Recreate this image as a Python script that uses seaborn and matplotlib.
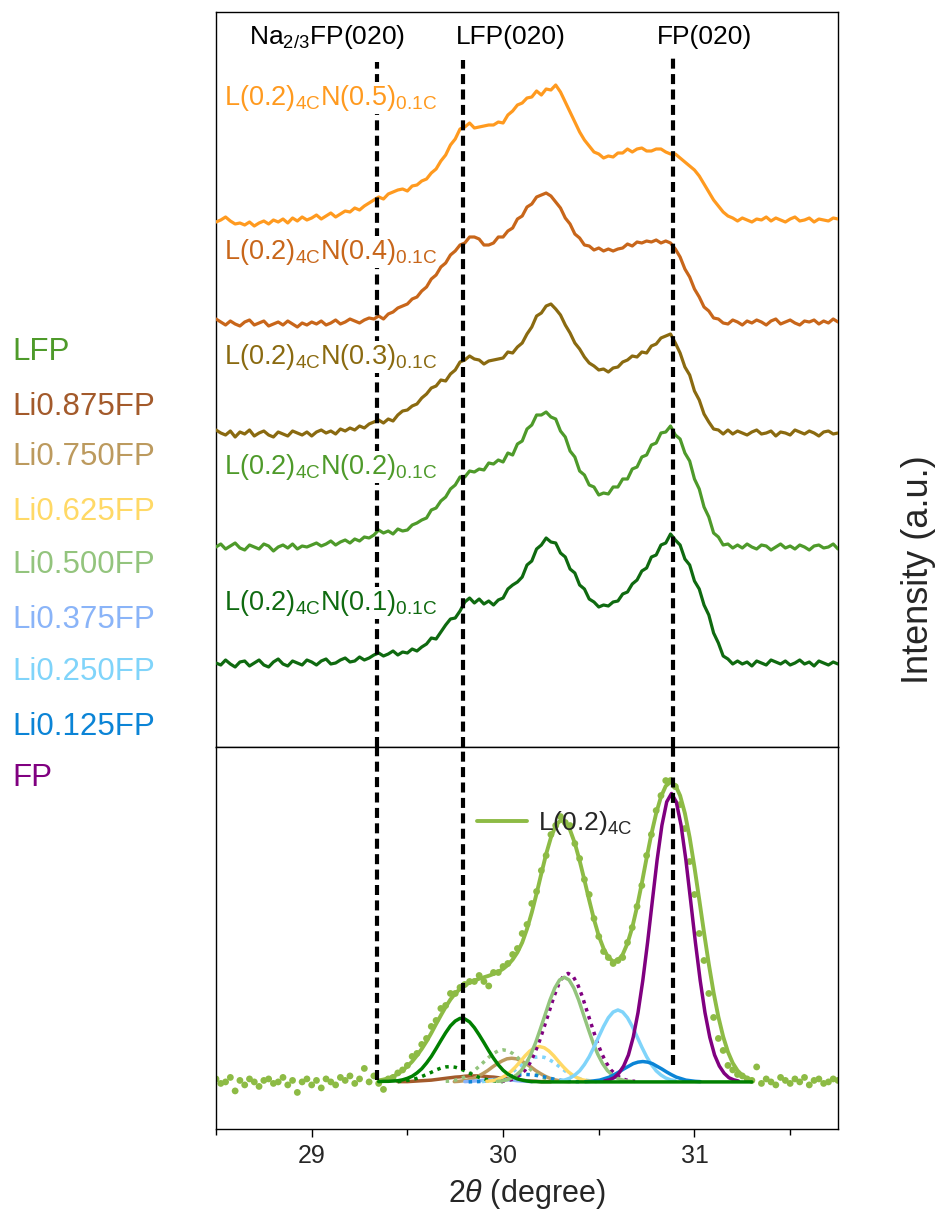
import numpy as np
import matplotlib
matplotlib.use("Agg")
import matplotlib.pyplot as plt
from matplotlib.ticker import MultipleLocator
import seaborn as sns

# ------------------------------------------------------------------
# Upper panel: XRD patterns of the L(0.2)4C N(x)0.1C electrodes
# (2-theta grid from 28.5 deg in 0.025 deg steps, intensity in a.u.)
# ------------------------------------------------------------------
theta_start = 28.5
theta_step = 0.025

pattern_labels = [
    r"L(0.2)$_{\mathrm{4C}}$N(0.1)$_{\mathrm{0.1C}}$",
    r"L(0.2)$_{\mathrm{4C}}$N(0.2)$_{\mathrm{0.1C}}$",
    r"L(0.2)$_{\mathrm{4C}}$N(0.3)$_{\mathrm{0.1C}}$",
    r"L(0.2)$_{\mathrm{4C}}$N(0.4)$_{\mathrm{0.1C}}$",
    r"L(0.2)$_{\mathrm{4C}}$N(0.5)$_{\mathrm{0.1C}}$",
]
pattern_colors = ["#0F6A10", "#4E9A2A", "#8A6A10", "#C8661A", "#FF9A1F"]
pattern_offsets = [84, 200, 314, 425, 527]
pattern_label_levels = [144, 280, 390, 495, 649]

xrd_n01 = [
    0, -2, 3, -1, -4, 1, 2, -3, 0, 3,
    -2, -4, 1, 4, -1, -3, 2, 0, -2, 3,
    1, -2, 2, 4, -1, 0, 3, 5, 1, 2,
    6, 3, 5, 8, 10, 7, 9, 12, 8, 11,
    10, 14, 12, 16, 19, 25, 24, 31, 38, 44,
    45, 52, 61, 65, 60, 64, 59, 62, 58, 63,
    65, 74, 78, 81, 86, 98, 102, 114, 118, 125,
    121, 120, 110, 106, 94, 90, 78, 74, 64, 61,
    56, 58, 57, 61, 62, 69, 71, 79, 83, 92,
    95, 106, 108, 118, 120, 129, 123, 118, 104, 98,
    82, 74, 58, 48, 30, 20, 7, 4, -1, 2,
    -1, 1, -3, 2, 0, -2, 3, 1, -1, 2,
    -2, 0, 3, -1, 1, -3, 2, 0, -2, 1,
    -1,
]
xrd_n02 = [
    0, 3, -2, 1, 4, -1, -3, 2, 0, -2,
    3, 1, -4, 0, 2, -1, 3, -2, 1, 0,
    2, 4, 1, 3, 6, 2, 5, 7, 4, 8,
    6, 10, 9, 12, 17, 14, 16, 13, 18, 16,
    17, 22, 24, 27, 29, 37, 39, 46, 50, 58,
    62, 70, 70, 76, 75, 78, 77, 84, 83, 87,
    85, 94, 92, 103, 106, 118, 122, 132, 132, 135,
    130, 128, 116, 110, 96, 90, 76, 72, 62, 60,
    52, 54, 53, 60, 60, 68, 68, 78, 80, 90,
    92, 102, 104, 114, 115, 121, 112, 108, 94, 86,
    68, 58, 40, 30, 14, 10, 2, 3, -1, 2,
    -1, 3, 0, -2, 2, 1, -3, 0, 3, -1,
    1, -2, 2, 0, -3, 1, 2, -1, 0, 3,
    -2,
]
xrd_n03 = [
    3, 0, -2, 2, -4, 1, -1, 3, -3, 0,
    2, -2, -4, 1, -1, -3, 2, 0, -2, 1,
    -3, 1, 3, 0, 2, -1, 4, 2, 5, 3,
    7, 5, 9, 11, 13, 10, 14, 12, 18, 22,
    23, 27, 29, 35, 39, 45, 47, 53, 52, 59,
    63, 71, 73, 77, 74, 73, 69, 72, 73, 74,
    75, 81, 80, 86, 90, 99, 106, 117, 120, 127,
    129, 124, 118, 108, 100, 90, 84, 76, 70, 67,
    63, 64, 61, 65, 66, 71, 73, 77, 76, 81,
    80, 87, 89, 95, 97, 99, 90, 80, 66, 58,
    42, 33, 19, 11, 4, 3, -1, 3, -1, 2,
    0, -2, 1, 3, -1, 0, 2, -3, 1, 0,
    -2, 3, 1, -1, 2, 0, -3, 1, 2, -1,
    0,
]
xrd_n04 = [
    3, 0, -3, 1, -2, -4, 0, 2, -3, -1,
    1, -4, -2, 0, -3, 1, -2, -5, -1, -3,
    0, -2, 1, -3, -1, 2, -2, 0, 3, 1,
    -1, 2, 4, 3, 6, 3, 8, 10, 14, 16,
    18, 23, 25, 31, 35, 43, 47, 55, 59, 67,
    71, 77, 79, 85, 85, 83, 77, 77, 79, 85,
    85, 91, 94, 103, 106, 115, 118, 125, 127, 129,
    126, 120, 114, 104, 98, 88, 84, 77, 76, 72,
    74, 71, 73, 71, 73, 74, 78, 76, 80, 79,
    81, 80, 82, 79, 81, 79, 73, 65, 53, 45,
    33, 25, 15, 11, 4, 3, -1, -2, 2, 0,
    -3, 1, -1, 2, 0, -3, 1, 3, -2, 0,
    2, -1, -3, 1, 0, 2, -2, 1, -1, 3,
    0,
]
xrd_n05 = [
    -2, 0, 3, -1, -4, -3, -5, -2, -6, -3,
    -1, -4, 0, -2, 1, -3, 2, -1, 3, 0,
    2, 5, 1, 4, 7, 3, 6, 9, 8, 12,
    10, 14, 17, 20, 23, 21, 26, 28, 30, 31,
    29, 34, 35, 39, 41, 47, 51, 59, 65, 75,
    81, 91, 93, 97, 92, 93, 94, 95, 95, 98,
    97, 105, 109, 115, 117, 122, 123, 129, 125, 131,
    130, 135, 128, 118, 108, 98, 88, 80, 74, 68,
    66, 62, 64, 63, 67, 67, 71, 68, 71, 72,
    69, 69, 71, 71, 68, 66, 66, 62, 58, 54,
    50, 44, 36, 28, 20, 14, 8, 4, 2, -1,
    2, 0, -2, 1, 0, 3, -1, 2, 0, -2,
    1, 3, -1, 0, 2, -2, 1, 0, -1, 2,
    1,
]
pattern_series = [xrd_n01, xrd_n02, xrd_n03, xrd_n04, xrd_n05]

# reference reflections
ref_positions = [29.34, 29.79, 30.89]
ref_labels = [r"Na$_{\mathrm{2/3}}$FP(020)", "LFP(020)", "FP(020)"]
ref_label_x = [29.08, 30.04, 31.05]

# ------------------------------------------------------------------
# Lower panel: L(0.2)4C measured pattern, total fit and phase components
# ------------------------------------------------------------------
measured_l02 = [
    0.010, -0.005, 0.000, 0.015, -0.030, 0.005, -0.010, 0.010, 0.000, -0.015,
    0.005, 0.010, -0.005, 0.000, 0.015, -0.010, 0.005, -0.035, 0.000, 0.010,
    -0.010, 0.005, -0.020, 0.010, 0.000, -0.010, 0.015, 0.005, 0.020, -0.005,
    0.010, 0.045, 0.000, 0.020, -0.005, -0.025, 0.010, 0.015, 0.030, 0.040,
    0.055, 0.085, 0.095, 0.125, 0.145, 0.185, 0.205, 0.245, 0.255, 0.295,
    0.295, 0.315, 0.325, 0.335, 0.335, 0.355, 0.335, 0.320, 0.365, 0.365,
    0.385, 0.395, 0.425, 0.445, 0.495, 0.525, 0.595, 0.635, 0.705, 0.755,
    0.825, 0.855, 0.885, 0.865, 0.855, 0.795, 0.745, 0.675, 0.625, 0.545,
    0.485, 0.435, 0.415, 0.395, 0.405, 0.415, 0.465, 0.515, 0.585, 0.655,
    0.755, 0.825, 0.905, 0.955, 1.005, 1.005, 0.985, 0.925, 0.845, 0.735,
    0.625, 0.495, 0.405, 0.295, 0.215, 0.145, 0.105, 0.055, 0.040, 0.025,
    0.020, 0.010, 0.005, 0.050, -0.005, 0.010, 0.000, -0.010, 0.015, 0.005,
    -0.005, 0.010, 0.000, 0.015, -0.010, 0.005, 0.010, -0.005, 0.000, 0.010,
    0.005,
]

fit_start = 29.35
fit_total = [
    0.005, 0.008, 0.012, 0.018, 0.027, 0.038, 0.052, 0.068, 0.088, 0.110,
    0.135, 0.163, 0.193, 0.222, 0.250, 0.275, 0.295, 0.310, 0.322, 0.331,
    0.338, 0.344, 0.349, 0.354, 0.360, 0.367, 0.377, 0.390, 0.408, 0.432,
    0.465, 0.510, 0.565, 0.628, 0.695, 0.760, 0.815, 0.855, 0.872, 0.866,
    0.840, 0.796, 0.738, 0.673, 0.606, 0.542, 0.487, 0.445, 0.415, 0.402,
    0.405, 0.425, 0.462, 0.515, 0.584, 0.663, 0.747, 0.827, 0.896, 0.951,
    0.987, 1.000, 0.990, 0.955, 0.896, 0.815, 0.716, 0.608, 0.498, 0.393,
    0.298, 0.217, 0.151, 0.100, 0.063, 0.038, 0.022, 0.012, 0.006,
]

# fitted phase components: start angle and profile on the same step
comp_lfp_start = 29.35
comp_lfp = [
    0.001, 0.002, 0.002, 0.003, 0.004, 0.007, 0.012, 0.019, 0.030, 0.044,
    0.063, 0.085, 0.111, 0.138, 0.164, 0.187, 0.203, 0.212, 0.210, 0.200,
    0.181, 0.157, 0.131, 0.104, 0.079, 0.057, 0.039, 0.026, 0.017, 0.010,
    0.006, 0.003, 0.001, 0.001, 0.000, 0.000, 0.000, 0.000, 0.000, 0.000,
    0.000, 0.000, 0.000, 0.000, 0.000, 0.000, 0.000, 0.000, 0.000, 0.000,
    0.000, 0.000, 0.000, 0.000, 0.000, 0.000, 0.000, 0.000, 0.000, 0.000,
    0.000, 0.000, 0.000, 0.000, 0.000, 0.000, 0.000, 0.000, 0.000, 0.000,
    0.000, 0.000, 0.000, 0.000, 0.000, 0.000, 0.000, 0.000, 0.000,
]
comp_lfp_dot_start = 29.45
comp_lfp_dot = [
    0.001, 0.003, 0.005, 0.008, 0.012, 0.018, 0.025, 0.032, 0.040, 0.046,
    0.050, 0.051, 0.049, 0.044, 0.037, 0.029, 0.022, 0.015, 0.010, 0.006,
    0.004, 0.002, 0.001,
]
comp_li875_start = 29.45
comp_li875 = [
    0.001, 0.001, 0.001, 0.002, 0.003, 0.004, 0.005, 0.006, 0.008, 0.010,
    0.012, 0.014, 0.016, 0.017, 0.019, 0.020, 0.020, 0.020, 0.019, 0.017,
    0.016, 0.014, 0.012, 0.010, 0.008, 0.006, 0.005, 0.004, 0.003, 0.002,
    0.001, 0.001, 0.001,
]
comp_li750_start = 29.745
comp_li750 = [
    0.001, 0.002, 0.004, 0.007, 0.012, 0.019, 0.028, 0.038, 0.050, 0.061,
    0.070, 0.077, 0.079, 0.077, 0.070, 0.061, 0.050, 0.038, 0.028, 0.019,
    0.012, 0.007, 0.004, 0.002, 0.001,
]
comp_li625_start = 29.915
comp_li625 = [
    0.002, 0.004, 0.007, 0.013, 0.022, 0.034, 0.050, 0.068, 0.087, 0.103,
    0.114, 0.118, 0.114, 0.103, 0.087, 0.068, 0.050, 0.034, 0.022, 0.013,
    0.007, 0.004, 0.002,
]
comp_li500_dot_start = 29.70
comp_li500_dot = [
    0.002, 0.003, 0.006, 0.010, 0.017, 0.026, 0.038, 0.052, 0.067, 0.082,
    0.095, 0.104, 0.107, 0.104, 0.095, 0.082, 0.067, 0.052, 0.038, 0.026,
    0.017, 0.010, 0.006, 0.003, 0.002,
]
comp_li500_start = 29.97
comp_li500 = [
    0.002, 0.003, 0.007, 0.013, 0.023, 0.038, 0.061, 0.092, 0.131, 0.177,
    0.225, 0.273, 0.313, 0.340, 0.349, 0.340, 0.313, 0.273, 0.225, 0.177,
    0.131, 0.092, 0.061, 0.038, 0.023, 0.013, 0.007, 0.003, 0.002,
]
comp_li375_start = 29.80
comp_li375 = [
    0.001, 0.002, 0.003, 0.004, 0.006, 0.007, 0.008, 0.008, 0.008, 0.007,
    0.006, 0.004, 0.003, 0.002, 0.001,
]
comp_li250_dot_start = 29.89
comp_li250_dot = [
    0.001, 0.003, 0.005, 0.008, 0.013, 0.020, 0.029, 0.041, 0.053, 0.065,
    0.075, 0.082, 0.084, 0.082, 0.075, 0.065, 0.053, 0.041, 0.029, 0.020,
    0.013, 0.008, 0.005, 0.003, 0.001,
]
comp_li250_start = 30.30
comp_li250 = [
    0.004, 0.007, 0.013, 0.023, 0.037, 0.058, 0.084, 0.116, 0.151, 0.185,
    0.214, 0.233, 0.240, 0.233, 0.214, 0.185, 0.151, 0.116, 0.084, 0.058,
    0.037, 0.023, 0.013, 0.007, 0.004,
]
comp_li125_dot_start = 29.82
comp_li125_dot = [
    0.000, 0.001, 0.001, 0.002, 0.004, 0.006, 0.009, 0.012, 0.016, 0.019,
    0.022, 0.024, 0.025, 0.024, 0.022, 0.019, 0.016, 0.012, 0.009, 0.006,
    0.004, 0.002, 0.001, 0.001, 0.000,
]
comp_li125_start = 30.43
comp_li125 = [
    0.001, 0.002, 0.004, 0.006, 0.011, 0.016, 0.024, 0.033, 0.043, 0.052,
    0.061, 0.066, 0.068, 0.066, 0.061, 0.052, 0.043, 0.033, 0.024, 0.016,
    0.011, 0.006, 0.004, 0.002, 0.001,
]
comp_fp_dot_start = 29.99
comp_fp_dot = [
    0.002, 0.003, 0.007, 0.013, 0.024, 0.039, 0.063, 0.095, 0.136, 0.184,
    0.233, 0.283, 0.325, 0.353, 0.362, 0.353, 0.325, 0.283, 0.233, 0.184,
    0.136, 0.095, 0.063, 0.039, 0.024, 0.013, 0.007, 0.003, 0.002,
]
comp_fp_start = 30.53
comp_fp = [
    0.003, 0.007, 0.014, 0.029, 0.053, 0.090, 0.149, 0.231, 0.338, 0.465,
    0.604, 0.741, 0.856, 0.934, 0.962, 0.934, 0.856, 0.741, 0.604, 0.465,
    0.338, 0.231, 0.149, 0.090, 0.053, 0.029, 0.014, 0.007, 0.003,
]

phase_names = ["LFP", "Li0.875FP", "Li0.750FP", "Li0.625FP", "Li0.500FP",
               "Li0.375FP", "Li0.250FP", "Li0.125FP", "FP"]
phase_colors = ["#4E9A2A", "#A35A2B", "#BC9A5E", "#FFD966", "#93C47D",
                "#8AB4F8", "#80D4FA", "#0B84D6", "#800080"]
fit_color = "#8DBB45"
lfp_comp_color = "#008000"

# ------------------------------------------------------------------
sns.set_theme(style="white")
plt.rcParams["font.family"] = ["Liberation Sans", "DejaVu Sans"]
plt.rcParams["mathtext.fontset"] = "custom"
plt.rcParams["mathtext.rm"] = "Liberation Sans"
plt.rcParams["mathtext.it"] = "Liberation Sans:italic"
plt.rcParams["mathtext.bf"] = "Liberation Sans:bold"

W, H = 935, 1218
fig = plt.figure(figsize=(W / 100, H / 100), dpi=100)
x0, x1 = 216 / W, 838 / W
ax_top = fig.add_axes([x0, 1 - 747 / H, x1 - x0, (747 - 12) / H])
ax_bot = fig.add_axes([x0, 1 - 1129 / H, x1 - x0, (1129 - 747) / H])


def grid(start, values):
    return start + theta_step * np.arange(len(values))


# ---- upper panel ----
for vals, off, col, lab, lev in zip(pattern_series, pattern_offsets,
                                    pattern_colors, pattern_labels,
                                    pattern_label_levels):
    x = grid(theta_start, vals)
    sns.lineplot(x=x, y=np.asarray(vals, float) + off, ax=ax_top, color=col,
                 lw=2.3, legend=False, zorder=3)
    ax_top.text(28.54, lev, lab, color=col, fontsize=19.5, ha="left",
                va="center", zorder=7,
                bbox=dict(facecolor="white", edgecolor="none", pad=0.5))

ax_top.vlines(ref_positions, 0, [685, 687, 692], colors="black",
              linestyles=(0, (2.4, 1.3)), lw=3, zorder=5)
for xp, lab in zip(ref_label_x, ref_labels):
    ax_top.text(xp, 710, lab, ha="center", va="center", fontsize=19,
                color="black")

ax_top.set_xlim(28.5, 31.75)
ax_top.set_ylim(0, 735)
ax_top.set_xticks([])
ax_top.set_yticks([])
ax_top.set_xlabel("")
ax_top.set_ylabel("")

# ---- lower panel ----
sns.scatterplot(x=grid(theta_start, measured_l02), y=measured_l02, ax=ax_bot,
                color=fit_color, s=24, edgecolor="none", marker="o",
                legend=False, zorder=2)
sns.lineplot(x=grid(fit_start, fit_total), y=fit_total, ax=ax_bot,
             color=fit_color, lw=2.8, zorder=2.5,
             label=r"L(0.2)$_{\mathrm{4C}}$")

dotted = (0, (1, 1.4))
components = [
    (comp_li875_start, comp_li875, phase_colors[1], "-", 3.0),
    (comp_li750_start, comp_li750, phase_colors[2], "-", 3.0),
    (comp_li375_start, comp_li375, phase_colors[5], "-", 3.0),
    (comp_li500_dot_start, comp_li500_dot, phase_colors[4], dotted, 3.1),
    (comp_li250_dot_start, comp_li250_dot, phase_colors[6], dotted, 3.1),
    (comp_li125_dot_start, comp_li125_dot, phase_colors[7], dotted, 3.1),
    (comp_lfp_dot_start, comp_lfp_dot, lfp_comp_color, dotted, 3.1),
    (comp_li625_start, comp_li625, phase_colors[3], "-", 3.2),
    (comp_fp_dot_start, comp_fp_dot, phase_colors[8], dotted, 3.2),
    (comp_li500_start, comp_li500, phase_colors[4], "-", 3.3),
    (comp_li250_start, comp_li250, phase_colors[6], "-", 3.3),
    (comp_li125_start, comp_li125, phase_colors[7], "-", 3.3),
    (comp_fp_start, comp_fp, phase_colors[8], "-", 3.4),
    (comp_lfp_start, comp_lfp, lfp_comp_color, "-", 3.5),
]
for start, vals, col, ls, z in components:
    sns.lineplot(x=grid(start, vals), y=vals, ax=ax_bot, color=col, lw=2.5,
                 linestyle=ls, legend=False, zorder=z)

ax_bot.vlines(ref_positions, [0.007, 0.04, 0.057], 1.2, colors="black",
              linestyles=(0, (2.4, 1.3)), lw=3, zorder=5)

ax_bot.set_xlim(28.5, 31.75)
ax_bot.set_ylim(-0.157, 1.117)
ax_bot.set_yticks([])
ax_bot.set_ylabel("")
ax_bot.xaxis.set_major_locator(MultipleLocator(1))
ax_bot.xaxis.set_minor_locator(MultipleLocator(0.5))
ax_bot.tick_params(axis="x", which="major", bottom=True, direction="out",
                   length=6, width=1.0, color="black", labelsize=18, pad=5)
ax_bot.tick_params(axis="x", which="minor", bottom=True, direction="out",
                   length=4.5, width=1.0, color="black")
ax_bot.set_xlabel(r"2$\it{\theta}$ (degree)", fontsize=22, labelpad=6)

leg = ax_bot.legend(loc="center left", bbox_to_anchor=(0.42, 0.80),
                    frameon=False, fontsize=19, handlelength=1.9,
                    handletextpad=0.4, borderpad=0, borderaxespad=0)

for ax in (ax_top, ax_bot):
    for sp in ax.spines.values():
        sp.set_color("black")
        sp.set_linewidth(1.0)

# phase colour key on the left
key_levels = [352, 407, 457, 512, 565, 620, 672, 727, 778]
for name, col, lev in zip(phase_names, phase_colors, key_levels):
    fig.text(12 / W, 1 - lev / H, name, color=col, fontsize=22.5,
             ha="left", va="center")

fig.text(918 / W, 1 - 570 / H, "Intensity (a.u.)", rotation=90,
         ha="center", va="center", fontsize=26)

fig.savefig("out.png", dpi=100)
